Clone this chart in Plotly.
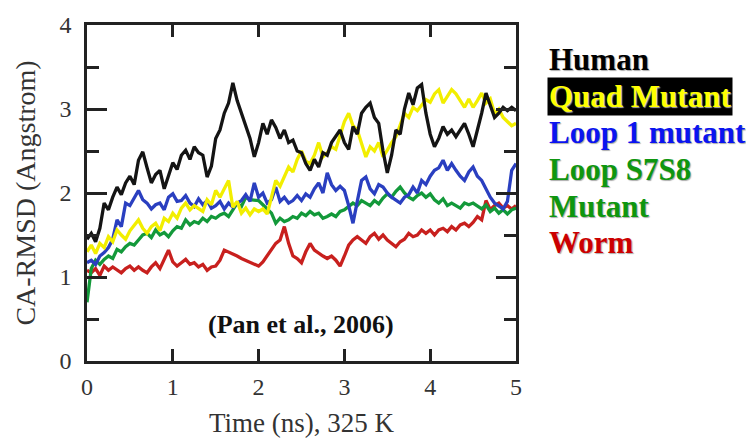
import numpy as np
import plotly.graph_objects as go

# Time in ns, sampled every 0.05 ns
time_ns = [round(i * 0.05, 2) for i in range(101)]

human = [
    1.45, 1.52, 1.42, 1.58, 1.88, 1.80, 1.95, 2.07, 1.98, 2.12,
    2.20, 2.10, 2.39, 2.49, 2.30, 2.12, 2.22, 2.27, 2.05, 2.20,
    2.36, 2.28, 2.45, 2.51, 2.40, 2.55, 2.48, 2.45, 2.19, 2.32,
    2.65, 2.75, 2.95, 3.07, 3.31, 3.10, 2.95, 2.80, 2.65, 2.43,
    2.60, 2.83, 2.70, 2.87, 2.78, 2.65, 2.75, 2.60, 2.63, 2.50,
    2.48, 2.35, 2.27, 2.40, 2.31, 2.48, 2.45, 2.60, 2.67, 2.75,
    2.60, 2.52, 2.79, 2.70, 2.95, 3.02, 3.07, 2.90, 2.83, 2.50,
    2.24, 2.45, 2.75, 2.70, 3.00, 3.19, 3.05, 3.25, 3.29, 2.95,
    2.70, 2.55, 2.65, 2.79, 2.70, 2.75, 2.67, 2.75, 2.83, 2.70,
    2.55, 2.75, 2.95, 3.19, 3.05, 2.90, 2.95, 3.02, 2.98, 3.02,
    2.98,
]

quad_mutant = [
    1.30, 1.38, 1.28, 1.40, 1.35, 1.48, 1.42, 1.56, 1.50, 1.45,
    1.55, 1.62, 1.68, 1.58, 1.52, 1.60, 1.64, 1.55, 1.70, 1.66,
    1.76, 1.70, 1.82, 1.88, 1.80, 1.85, 1.81, 1.78, 1.92, 1.86,
    2.03, 1.95, 2.05, 2.15, 1.83, 1.90, 1.76, 1.82, 1.74, 1.81,
    1.78, 1.81, 1.75, 1.95, 2.15, 2.08, 2.20, 2.31, 2.25, 2.40,
    2.50, 2.38, 2.35, 2.45, 2.60, 2.43, 2.48, 2.55, 2.52, 2.70,
    2.85, 2.95, 2.80, 2.75, 2.60, 2.43, 2.55, 2.50, 2.60, 2.43,
    2.51, 2.60, 2.67, 2.80, 2.95, 2.90, 3.02, 2.98, 3.05, 3.11,
    3.08, 3.18, 3.23, 3.07, 3.15, 3.23, 3.18, 3.10, 3.02, 3.12,
    3.02, 3.10, 3.19, 3.07, 3.12, 2.95, 3.00, 2.90, 2.85, 2.80,
    2.83,
]

loop1_mutant = [
    1.17, 1.20, 1.15, 1.25, 1.29, 1.35, 1.45, 1.68, 1.60, 1.88,
    1.85, 1.95, 2.03, 1.92, 1.88, 1.81, 1.86, 1.88, 1.80, 1.95,
    1.99, 1.90, 1.91, 1.97, 1.88, 1.84, 1.93, 1.86, 1.91, 1.82,
    1.85, 1.90, 1.81, 1.88, 1.83, 1.88, 1.91, 1.98, 1.90, 2.12,
    1.95, 2.00, 1.88, 1.92, 2.07, 1.90, 1.95, 1.88, 1.91, 1.97,
    1.91, 1.99, 1.95, 2.05, 2.12, 2.00, 2.24, 2.10, 2.03, 2.08,
    2.03, 1.85, 1.64, 1.90, 2.15, 2.19, 2.05, 1.99, 2.10, 2.07,
    2.00, 1.95, 1.92, 1.88, 1.95, 1.98, 2.07, 2.00, 2.15, 2.10,
    2.20, 2.27, 2.30, 2.39, 2.27, 2.35, 2.27, 2.20, 2.15, 2.25,
    2.31, 2.20, 2.15, 2.05, 1.95, 1.88, 1.85, 1.81, 1.90, 2.27,
    2.35,
]

loop_s7s8_mutant = [
    0.70, 1.10, 1.20, 1.15, 1.21, 1.25, 1.22, 1.33, 1.30, 1.36,
    1.40, 1.38, 1.44, 1.50, 1.52, 1.47, 1.56, 1.50, 1.53, 1.48,
    1.55, 1.60, 1.58, 1.68, 1.62, 1.66, 1.64, 1.70, 1.66, 1.72,
    1.70, 1.74, 1.76, 1.72, 1.80, 1.88, 1.84, 1.95, 1.92, 1.91,
    1.91, 1.86, 1.81, 1.76, 1.64, 1.70, 1.66, 1.68, 1.72, 1.70,
    1.76, 1.73, 1.78, 1.74, 1.76, 1.70, 1.72, 1.75, 1.72, 1.78,
    1.80, 1.84, 1.88, 1.85, 1.91, 1.88, 1.85, 1.91, 1.87, 1.94,
    1.99, 1.95, 2.02, 2.07, 2.00, 1.95, 1.92, 1.97, 2.00, 1.95,
    1.99, 1.92, 1.88, 1.93, 1.85, 1.88, 1.85, 1.82, 1.88, 1.86,
    1.88, 1.84, 1.81, 1.86, 1.78, 1.82, 1.76, 1.80, 1.75, 1.80,
    1.82,
]

worm = [
    1.08, 1.05, 1.10, 1.02, 1.13, 1.08, 1.12, 1.08, 1.05, 1.10,
    1.13, 1.08, 1.12, 1.08, 1.05, 1.12, 1.17, 1.10, 1.20, 1.32,
    1.18, 1.13, 1.17, 1.21, 1.15, 1.17, 1.12, 1.15, 1.08, 1.12,
    1.13, 1.20, 1.32, 1.30, 1.28, 1.25, 1.22, 1.20, 1.17, 1.15,
    1.13, 1.18, 1.25, 1.32, 1.40, 1.44, 1.60, 1.40, 1.25, 1.22,
    1.17, 1.30, 1.40, 1.32, 1.28, 1.25, 1.22, 1.25, 1.20, 1.13,
    1.25, 1.38, 1.44, 1.48, 1.44, 1.40, 1.48, 1.52, 1.45, 1.50,
    1.44, 1.40, 1.36, 1.42, 1.45, 1.52, 1.48, 1.50, 1.56, 1.52,
    1.56, 1.50, 1.56, 1.58, 1.54, 1.60, 1.56, 1.62, 1.64, 1.60,
    1.65, 1.72, 1.68, 1.91, 1.80, 1.85, 1.88, 1.82, 1.85, 1.81,
    1.85,
]

x_ticks = [0, 1, 2, 3, 4, 5]
y_ticks = [0, 1, 2, 3, 4]

series = [
    ("Worm", worm, "#c8201e"),
    ("Loop S7S8 Mutant", loop_s7s8_mutant, "#13993a"),
    ("Loop 1 mutant", loop1_mutant, "#2a3fc0"),
    ("Quad Mutant", quad_mutant, "#f2ee00"),
    ("Human", human, "#141414"),
]

SERIF = "Liberation Serif"

fig = go.Figure()
for name, vals, color in series:
    fig.add_trace(go.Scatter(
        x=time_ns[:len(vals)], y=vals, mode="lines", name=name,
        line=dict(color=color, width=3.3), showlegend=False,
    ))

axis_common = dict(
    showline=True, linecolor="#222", linewidth=2.5, mirror="ticks",
    ticks="inside", tickcolor="#222", tickwidth=2.5,
    showgrid=False, zeroline=False, automargin=False,
    tickfont=dict(family=SERIF, size=24, color="#333"),
)

fig.update_xaxes(
    range=[0, 5], tickvals=x_ticks, ticklen=12,
    title=dict(text="Time (ns), 325 K", font=dict(family=SERIF, size=27, color="#333"), standoff=15),
    ticklabelstandoff=2,
    **axis_common,
)
fig.update_yaxes(
    range=[0, 4], tickvals=y_ticks, ticklen=20,
    minor=dict(dtick=0.5, ticklen=12, tickwidth=2.5, tickcolor="#222", ticks="inside", showgrid=False),
    title=dict(text="CA-RMSD (Angstrom)", font=dict(family=SERIF, size=28, color="#333"), standoff=16),
    ticklabelstandoff=8,
    **axis_common,
)

fig.add_annotation(
    x=2.49, y=0.44, xref="x", yref="y", text="<b>(Pan et al., 2006)</b>",
    showarrow=False, font=dict(family=SERIF, size=26, color="#111"),
)

legend_items = [
    ("Human", "#000000", None, 0.896),
    ("Quad Mutant", "#ffff00", "#000000", 0.786),
    ("Loop 1 mutant", "#0a14f0", None, 0.679),
    ("Loop S7S8", "#0f960f", None, 0.571),
    ("Mutant", "#0f960f", None, 0.461),
    ("Worm", "#cc0000", None, 0.354),
]
for text, color, bg, ypos in legend_items:
    fig.add_annotation(
        x=1.072, y=ypos, xref="paper", yref="paper", xanchor="left", yanchor="middle",
        text=f"<b>{text}</b>", showarrow=False,
        bgcolor=bg if bg else "rgba(0,0,0,0)", borderpad=1,
        font=dict(family=SERIF, size=31, color=color, shadow="1px 1px 1px #aaa"),
    )

# the page body adds an 8px offset; margins compensate so the plot sits where the reference has it
fig.update_layout(
    width=754, height=443,
    margin=dict(l=79, r=246, t=17, b=90),
    plot_bgcolor="white", paper_bgcolor="white",
    showlegend=False,
)

fig.write_html("out.html")
